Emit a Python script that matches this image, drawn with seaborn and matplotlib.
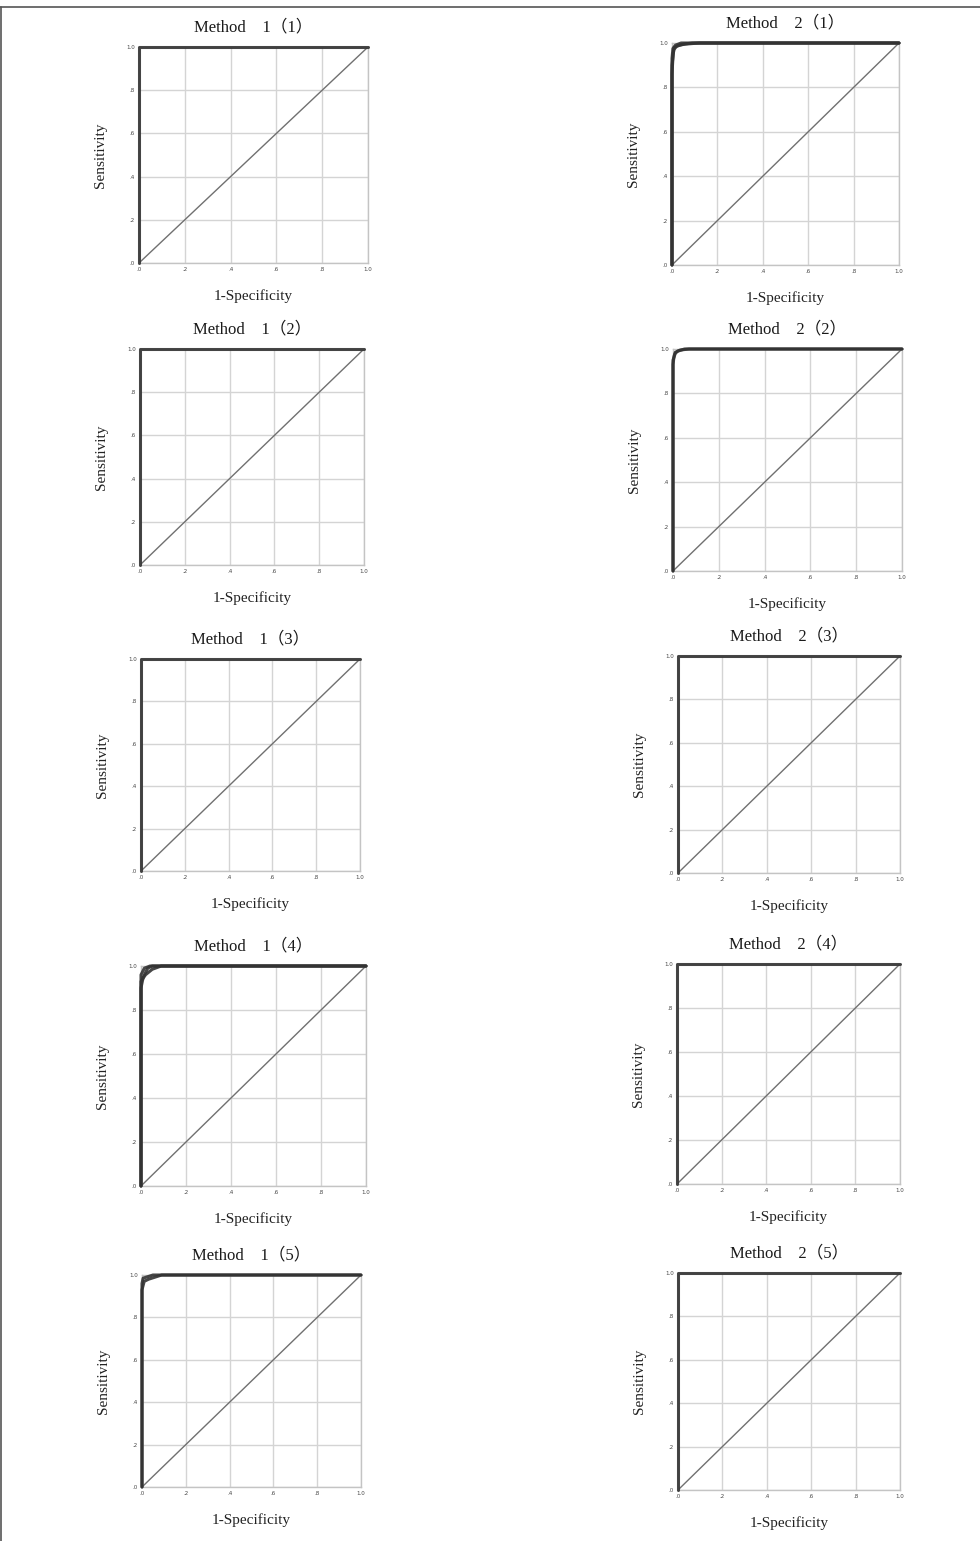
import matplotlib
matplotlib.use("Agg")
import matplotlib.pyplot as plt
import seaborn as sns
import numpy as np
import pandas as pd

sns.set_style("whitegrid")
plt.rcParams['font.family'] = ['Liberation Serif', 'Noto Sans CJK JP', 'DejaVu Sans']

# panel titles, in grid order (row by row, left then right)
titles = [
    "Method\u30001（1）", "Method\u30002（1）",
    "Method\u30001（2）", "Method\u30002（2）",
    "Method\u30001（3）", "Method\u30002（3）",
    "Method\u30001（4）", "Method\u30002（4）",
    "Method\u30001（5）", "Method\u30002（5）",
]

tick_vals = [0.0, 0.2, 0.4, 0.6, 0.8, 1.0]
tick_labels = [".0", ".2", ".4", ".6", ".8", "1.0"]

# perfect classifier ROC
perfect_fpr = [0.0, 0.0, 1.0]
perfect_tpr = [0.0, 1.0, 1.0]

# Method 2(1): several overlapping class curves
m21_fpr_a = [0.0, 0.0, 0.005, 0.01, 0.03, 0.06, 0.12, 1.0]
m21_tpr_a = [0.0, 0.86, 0.95, 0.98, 0.99, 0.995, 1.0, 1.0]
m21_fpr_b = [0.0, 0.0, 0.008, 0.02, 0.05, 0.09, 1.0]
m21_tpr_b = [0.0, 0.90, 0.97, 0.985, 0.995, 1.0, 1.0]
m21_fpr_c = [0.0, 0.0, 0.004, 0.015, 0.04, 1.0]
m21_tpr_c = [0.0, 0.93, 0.975, 0.99, 1.0, 1.0]

# Method 2(2)
m22_fpr_a = [0.0, 0.0, 0.005, 0.01, 0.03, 0.07, 1.0]
m22_tpr_a = [0.0, 0.93, 0.97, 0.985, 0.995, 1.0, 1.0]
m22_fpr_b = [0.0, 0.0, 0.01, 0.02, 0.05, 1.0]
m22_tpr_b = [0.0, 0.95, 0.98, 0.99, 1.0, 1.0]

# Method 1(4)
m14_fpr_a = [0.0, 0.0, 0.01, 0.03, 0.05, 1.0]
m14_tpr_a = [0.0, 0.90, 0.95, 0.99, 1.0, 1.0]
m14_fpr_b = [0.0, 0.0, 0.02, 0.05, 0.09, 1.0]
m14_tpr_b = [0.0, 0.93, 0.96, 0.985, 1.0, 1.0]
m14_fpr_c = [0.0, 0.0, 0.015, 0.04, 1.0]
m14_tpr_c = [0.0, 0.96, 0.99, 1.0, 1.0]

# Method 1(5)
m15_fpr_a = [0.0, 0.0, 0.01, 0.03, 0.06, 0.09, 1.0]
m15_tpr_a = [0.0, 0.93, 0.97, 0.98, 0.99, 1.0, 1.0]
m15_fpr_b = [0.0, 0.0, 0.005, 0.02, 0.05, 1.0]
m15_tpr_b = [0.0, 0.96, 0.985, 0.99, 1.0, 1.0]

curves = [
    [(perfect_fpr, perfect_tpr)],
    [(m21_fpr_a, m21_tpr_a), (m21_fpr_b, m21_tpr_b), (m21_fpr_c, m21_tpr_c)],
    [(perfect_fpr, perfect_tpr)],
    [(m22_fpr_a, m22_tpr_a), (m22_fpr_b, m22_tpr_b)],
    [(perfect_fpr, perfect_tpr)],
    [(perfect_fpr, perfect_tpr)],
    [(m14_fpr_a, m14_tpr_a), (m14_fpr_b, m14_tpr_b), (m14_fpr_c, m14_tpr_c)],
    [(perfect_fpr, perfect_tpr)],
    [(m15_fpr_a, m15_tpr_a), (m15_fpr_b, m15_tpr_b)],
    [(perfect_fpr, perfect_tpr)],
]

diag = [0.0, 1.0]

# axes boxes in pixels: left, top, right, bottom
W, H = 980, 1541
boxes = [
    (139, 47, 368, 263), (672, 43, 899, 265),
    (140, 349, 364, 565), (673, 349, 902, 571),
    (141, 659, 360, 871), (678, 656, 900, 873),
    (141, 966, 366, 1186), (677, 964, 900, 1184),
    (142, 1275, 361, 1487), (678, 1273, 900, 1490),
]

fig = plt.figure(figsize=(W / 100, H / 100), dpi=100)

# page frame (top and left edges)
fig.add_artist(plt.Line2D([0, 1], [1 - 7 / H, 1 - 7 / H], color="#555555", lw=1.2))
fig.add_artist(plt.Line2D([1 / W, 1 / W], [0, 1 - 7 / H], color="#555555", lw=1.2))

for title, lines, (l, t, r, b) in zip(titles, curves, boxes):
    ax = fig.add_axes([l / W, 1 - b / H, (r - l) / W, (b - t) / H])
    ax.set_facecolor("white")
    ax.grid(True, color="#d4d4d4", lw=1.0)

    sns.lineplot(x=diag, y=diag, ax=ax, color="#707070", lw=1.0,
                 sort=False, estimator=None)
    for fpr, tpr in lines:
        df = pd.DataFrame({"fpr": fpr, "tpr": tpr})
        sns.lineplot(data=df, x="fpr", y="tpr", ax=ax, color="#333333",
                     lw=2.2, sort=False, estimator=None, alpha=0.9,
                     clip_on=False, zorder=3)

    ax.set_xlim(0, 1)
    ax.set_ylim(0, 1)
    ax.set_xticks(tick_vals)
    ax.set_yticks(tick_vals)
    ax.set_xticklabels(tick_labels, fontsize=4, family="DejaVu Sans", color="#444444")
    ax.set_yticklabels(tick_labels, fontsize=4, family="DejaVu Sans", color="#444444")
    ax.tick_params(length=0, pad=3)
    for s in ["bottom", "right", "top", "left"]:
        ax.spines[s].set_color("#c4c4c4")
        ax.spines[s].set_linewidth(1.0)

    ax.set_title(title, fontsize=12, pad=11, color="#1a1a1a")
    ax.set_xlabel("1-Specificity", fontsize=11, labelpad=12, color="#222222")
    ax.set_ylabel("Sensitivity", fontsize=11, labelpad=14, color="#222222")

fig.savefig("out.png", dpi=100, facecolor="white")
